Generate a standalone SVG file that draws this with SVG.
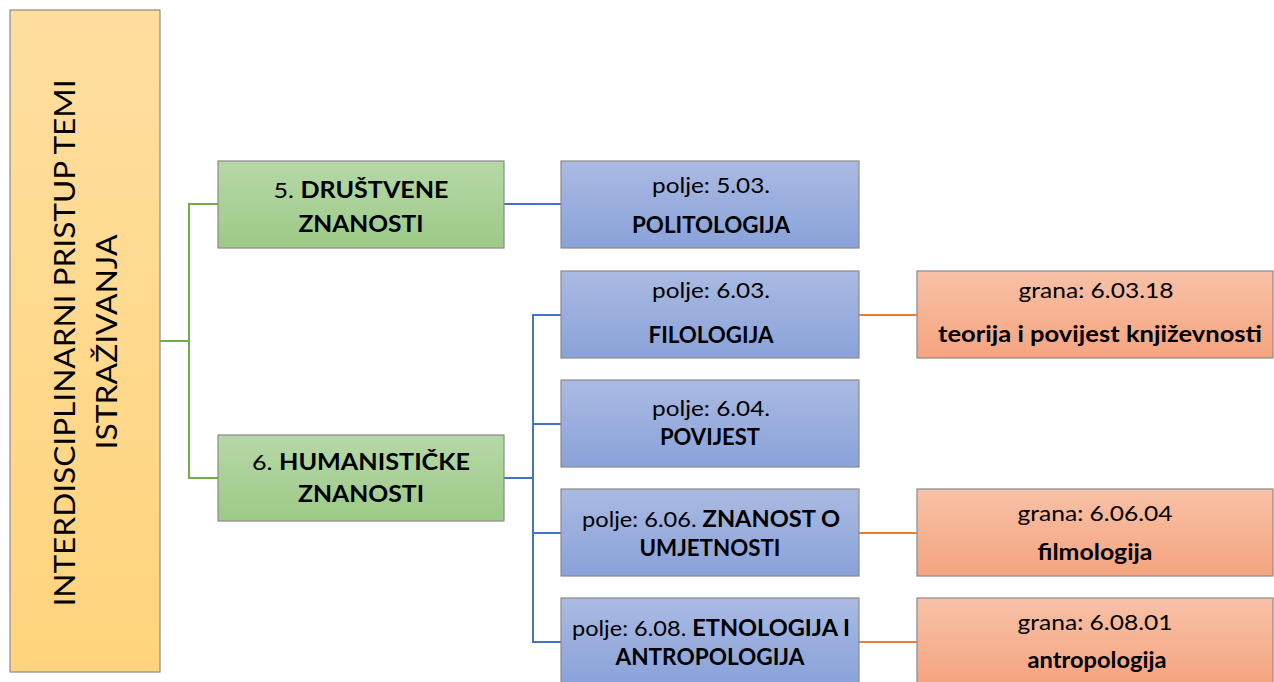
<svg xmlns="http://www.w3.org/2000/svg" width="1274" height="682" viewBox="0 0 1274 682">
<defs>
<linearGradient id="gY" x1="0" y1="0" x2="0" y2="1"><stop offset="0" stop-color="#FFDE9F"/><stop offset="1" stop-color="#FFD47C"/></linearGradient>
<linearGradient id="gG" x1="0" y1="0" x2="0" y2="1"><stop offset="0" stop-color="#B6D8A7"/><stop offset="1" stop-color="#9DCA87"/></linearGradient>
<linearGradient id="gB" x1="0" y1="0" x2="0" y2="1"><stop offset="0" stop-color="#AABAE2"/><stop offset="1" stop-color="#89A2D9"/></linearGradient>
<linearGradient id="gO" x1="0" y1="0" x2="0" y2="1"><stop offset="0" stop-color="#F8C1A7"/><stop offset="1" stop-color="#F5A47F"/></linearGradient>
</defs>
<style>
.box{stroke:#8A8A8A;stroke-width:1.2}
.t{font-family:Lato,"Open Sans","Liberation Sans",sans-serif;font-size:22px;fill:#000;text-anchor:middle}
.b{font-weight:bold}
.big{font-family:Lato,"Open Sans","Liberation Sans",sans-serif;font-size:29px;fill:#000;text-anchor:middle}
.cg{stroke:#70AD47;stroke-width:2;fill:none}
.cb{stroke:#4472C4;stroke-width:2;fill:none}
.co{stroke:#ED7D31;stroke-width:2;fill:none}
</style>
<rect width="1274" height="682" fill="#fff"/>
<g id="connectors">
<path class="cg" d="M160 341H189M218 204H189V478H218"/>
<path class="cb" d="M504 204H561"/>
<path class="cb" d="M504 478H533M561 315H533V642H561M533 424H561M533 533H561"/>
<path class="co" d="M859 315H917M859 533H917M859 642H917"/>
</g>
<g id="root">
<rect class="box" x="10" y="10" width="150" height="662" fill="url(#gY)"/>
<text class="big" transform="translate(75,343) rotate(-90)" textLength="527" lengthAdjust="spacingAndGlyphs">INTERDISCIPLINARNI PRISTUP TEMI</text>
<text class="big" transform="translate(117,342) rotate(-90)" textLength="215" lengthAdjust="spacingAndGlyphs">ISTRAŽIVANJA</text>
</g>
<g id="drustvene">
<rect class="box" x="218" y="161" width="286" height="87" fill="url(#gG)"/>
<text class="t" x="361" y="198" textLength="175" lengthAdjust="spacingAndGlyphs">5. <tspan class="b">DRUŠTVENE</tspan></text>
<text class="t b" x="361" y="232" textLength="125" lengthAdjust="spacingAndGlyphs">ZNANOSTI</text>
</g>
<g id="humanisticke">
<rect class="box" x="218" y="435" width="286" height="86" fill="url(#gG)"/>
<text class="t" x="361" y="470" textLength="218" lengthAdjust="spacingAndGlyphs">6. <tspan class="b">HUMANISTIČKE</tspan></text>
<text class="t b" x="361" y="502" textLength="126" lengthAdjust="spacingAndGlyphs">ZNANOSTI</text>
</g>
<g id="politologija">
<rect class="box" x="561" y="161" width="298" height="87" fill="url(#gB)"/>
<text class="t" x="711" y="193" textLength="118" lengthAdjust="spacingAndGlyphs">polje: 5.03.</text>
<text class="t b" x="711" y="233" textLength="158" lengthAdjust="spacingAndGlyphs">POLITOLOGIJA</text>
</g>
<g id="filologija">
<rect class="box" x="561" y="271" width="298" height="87" fill="url(#gB)"/>
<text class="t" x="711" y="298" textLength="118" lengthAdjust="spacingAndGlyphs">polje: 6.03.</text>
<text class="t b" x="711" y="343" textLength="125" lengthAdjust="spacingAndGlyphs">FILOLOGIJA</text>
</g>
<g id="povijest">
<rect class="box" x="561" y="380" width="298" height="87" fill="url(#gB)"/>
<text class="t" x="711" y="416" textLength="118" lengthAdjust="spacingAndGlyphs">polje: 6.04.</text>
<text class="t b" x="710" y="445" textLength="100" lengthAdjust="spacingAndGlyphs">POVIJEST</text>
</g>
<g id="umjetnost">
<rect class="box" x="561" y="489" width="298" height="87" fill="url(#gB)"/>
<text class="t" x="711" y="527" textLength="258" lengthAdjust="spacingAndGlyphs">polje: 6.06. <tspan class="b">ZNANOST O</tspan></text>
<text class="t b" x="710" y="556" textLength="141" lengthAdjust="spacingAndGlyphs">UMJETNOSTI</text>
</g>
<g id="etnologija">
<rect class="box" x="561" y="598" width="298" height="87" fill="url(#gB)"/>
<text class="t" x="711" y="636" textLength="278" lengthAdjust="spacingAndGlyphs">polje: 6.08. <tspan class="b">ETNOLOGIJA I</tspan></text>
<text class="t b" x="710" y="665" textLength="189" lengthAdjust="spacingAndGlyphs">ANTROPOLOGIJA</text>
</g>
<g id="knjizevnost">
<rect class="box" x="917" y="271" width="356" height="87" fill="url(#gO)"/>
<text class="t" x="1096" y="298" textLength="155" lengthAdjust="spacingAndGlyphs">grana: 6.03.18</text>
<text class="t b" x="1100" y="342" textLength="324" lengthAdjust="spacingAndGlyphs">teorija i povijest književnosti</text>
</g>
<g id="filmologija">
<rect class="box" x="917" y="489" width="356" height="87" fill="url(#gO)"/>
<text class="t" x="1095" y="521" textLength="155" lengthAdjust="spacingAndGlyphs">grana: 6.06.04</text>
<text class="t b" x="1095" y="560" textLength="115" lengthAdjust="spacingAndGlyphs">filmologija</text>
</g>
<g id="antropologija">
<rect class="box" x="917" y="598" width="356" height="87" fill="url(#gO)"/>
<text class="t" x="1095" y="630" textLength="155" lengthAdjust="spacingAndGlyphs">grana: 6.08.01</text>
<text class="t b" x="1097" y="668" textLength="139" lengthAdjust="spacingAndGlyphs">antropologija</text>
</g>
</svg>
